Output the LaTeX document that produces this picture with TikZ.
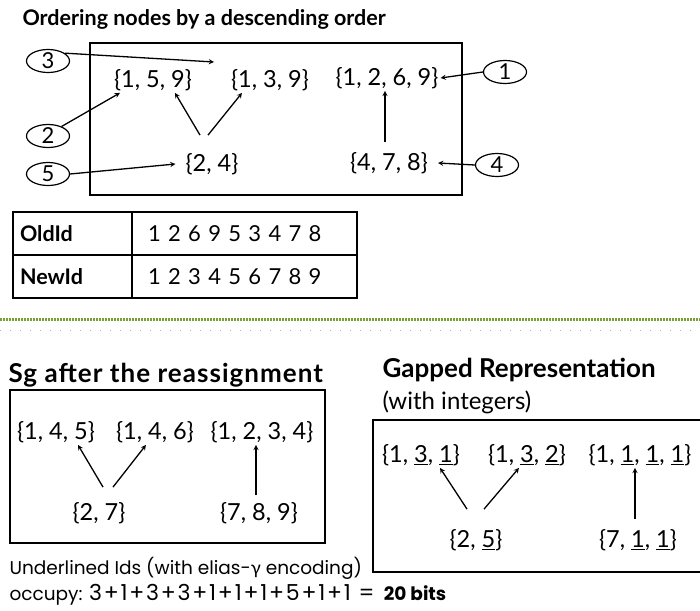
\documentclass[tikz,border=0pt]{standalone}
\usepackage{fontspec}
\setmainfont{Lato}
\newfontfamily\geofont{Poppins}
\newfontfamily\greekfont{Lato}
\usetikzlibrary{positioning}
\usetikzlibrary{shapes.geometric}
\usetikzlibrary{arrows.meta}
\definecolor{sepgreen}{RGB}{122,160,52}

\begin{document}
\begin{tikzpicture}[x=1pt, y=-1pt,
        setnode/.style={font=\fontsize{23.5}{28}\selectfont, inner sep=2pt},
        idcircle/.style={ellipse, draw=black, line width=1.2pt, minimum width=43pt, minimum height=23pt, inner sep=0pt, font=\fontsize{22}{24}\selectfont},
        frame/.style={draw=black, line width=1.5pt},
        cell/.style={rectangle, draw=black, line width=1.5pt, minimum height=43pt, outer sep=0pt, font=\fontsize{22}{24}\selectfont, align=left},
        heading/.style={font=\bfseries\fontsize{21.5}{24}\selectfont, anchor=west},
        bigheading/.style={font=\bfseries\fontsize{26}{30}\selectfont, anchor=west},
        note/.style={font=\geofont\fontsize{18.5}{22}\selectfont, anchor=west},
        arrow/.style={->, >=stealth, line width=1.3pt}
        ]
        \useasboundingbox (0,0) rectangle (700,610);

        % Top part: ordering
        \node[heading] (title) at (19,19) {Ordering nodes by a descending order};
        \draw[frame] (90,43) rectangle (462,195);

        \node[setnode] (s159) at (153,80) {\{1, 5, 9\}};
        \node[setnode] (s139) at (270,80) {\{1, 3, 9\}};
        \node[setnode] (s1269) at (387,78) {\{1, 2, 6, 9\}};
        \node[setnode] (s24) at (212,164) {\{2, 4\}};
        \node[setnode] (s478) at (389,163) {\{4, 7, 8\}};

        \node[idcircle] (c3) at (48,61) {3};
        \node[idcircle] (c2) at (48,136) {2};
        \node[idcircle] (c5) at (48,174) {5};
        \node[idcircle] (c1) at (505,72) {1};
        \node[idcircle] (c4) at (497,165) {4};
        \coordinate (p3) at (214,62);

        \draw[arrow] (c3.25) -- (p3);
        \draw[arrow] (c2.35) -- ([xshift=8pt]s159.south west);
        \draw[arrow] (c5.east) -- ([xshift=-8pt]s24.west);
        \draw[arrow] ([xshift=-12pt,yshift=16pt]s24.north) -- ([xshift=22pt]s159.south);
        \draw[arrow] ([xshift=-4pt,yshift=16pt]s24.north) -- ([xshift=-28pt]s139.south);
        \draw[arrow] ([xshift=-4pt,yshift=8pt]s478.north) -- ([xshift=-2pt]s1269.south);
        \draw[arrow] (c1.west) -- (s1269.east);
        \draw[arrow] (c4.west) -- ([xshift=8pt]s478.east);

        % Table
        \node[cell, text width=105pt, inner xsep=7pt, font=\bfseries\fontsize{21.5}{24}\selectfont] (oldhead) at (72.5,233.5) {OldId};
        \node[cell, text width=193pt, inner xsep=16pt, right=0pt of oldhead] (oldval) {1 2 6 9 5 3 4 7 8};
        \node[cell, text width=105pt, inner xsep=7pt, font=\bfseries\fontsize{21.5}{24}\selectfont, below=0pt of oldhead] (newhead) {NewId};
        \node[cell, text width=193pt, inner xsep=16pt, below=0pt of oldval] (newval) {1 2 3 4 5 6 7 8 9};

        % Separator
        \draw[sepgreen, line width=3pt, dash pattern=on 2pt off 1pt] (0,319) -- (700,319);
        \draw[gray!60, line width=1pt, dash pattern=on 1pt off 9pt] (0,330) -- (700,330);

        % Bottom left: after reassignment
        \node[bigheading] (sgtitle) at (5,375) {\addfontfeature{LetterSpace=4}Sg after the reassignment};
        \draw[frame] (10,390) rectangle (325,543);

        \node[setnode] (s145) at (56,432) {\{1, 4, 5\}};
        \node[setnode] (s146) at (155,432) {\{1, 4, 6\}};
        \node[setnode] (s1234) at (262,432) {\{1, 2, 3, 4\}};
        \node[setnode] (s27) at (99,513) {\{2, 7\}};
        \node[setnode] (s789) at (259,513) {\{7, 8, 9\}};

        \draw[arrow] ([xshift=4pt,yshift=13pt]s27.north) -- ([xshift=22pt]s145.south);
        \draw[arrow] ([xshift=14pt,yshift=13pt]s27.north) -- ([xshift=-9pt]s146.south);
        \draw[arrow] ([xshift=-3pt,yshift=5pt]s789.north) -- ([xshift=-6pt]s1234.south);

        \node[note] (note1) at (6,568) {Underlined Ids (with elias-{\greekfont γ} encoding)};
        \node[note] (note2) at (6,595) {occupy: {\fontsize{22}{24}\selectfont\addfontfeature{LetterSpace=8}3+1+3+3+1+1+1+5+1+1 = }\textbf{20 bits}};

        % Bottom right: gapped representation
        \node[bigheading] (gaptitle) at (379,370) {Gapped Representation};
        \node[anchor=west, font=\fontsize{24}{28}\selectfont] (gapsub) at (379,402) {(with integers)};
        \draw[frame] (373,420) rectangle (706,572);

        \node[setnode] (g131) at (421,455) {\{1, \underline{3}, \underline{1}\}};
        \node[setnode] (g132) at (527,455) {\{1, \underline{3}, \underline{2}\}};
        \node[setnode] (g1111) at (640,455) {\{1, \underline{1}, \underline{1}, \underline{1}\}};
        \node[setnode] (g25) at (476,540) {\{2, \underline{5}\}};
        \node[setnode] (g711) at (638,540) {\{7, \underline{1}, \underline{1}\}};

        \draw[arrow] ([xshift=-9pt,yshift=18pt]g25.north) -- ([xshift=19pt]g131.south);
        \draw[arrow] ([xshift=8pt,yshift=18pt]g25.north) -- ([xshift=-8pt]g132.south);
        \draw[arrow] ([xshift=-3pt,yshift=8pt]g711.north) -- ([xshift=-5pt]g1111.south);

    \end{tikzpicture}
\end{document}
